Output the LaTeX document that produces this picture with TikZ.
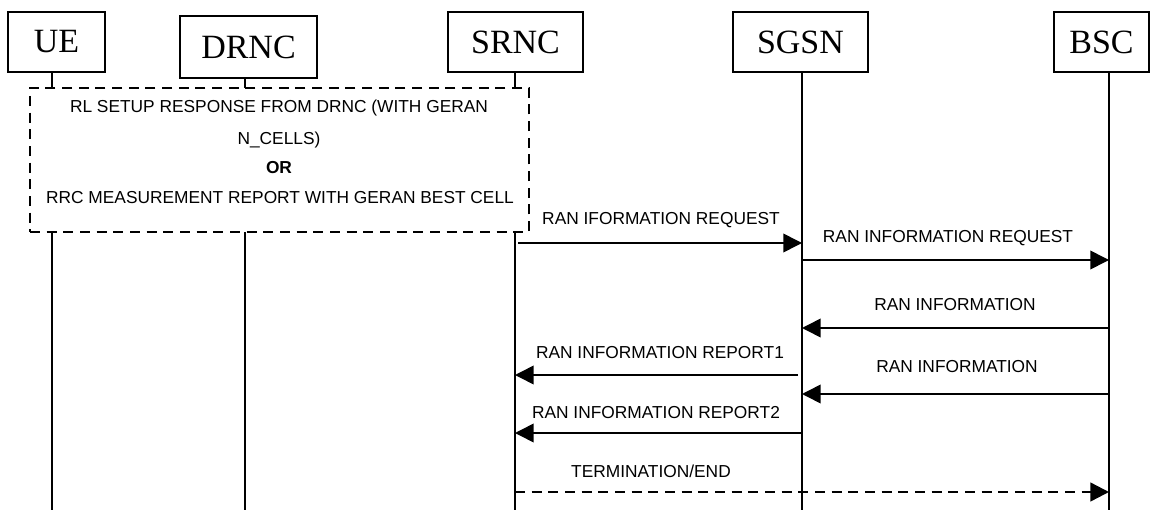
\documentclass[tikz,border=0pt]{standalone}
\usepackage{fontspec}
\setmainfont{Liberation Serif}
\newfontfamily\arialfont{Liberation Sans}
\usetikzlibrary{arrows.meta}
\tikzset{
  hdr/.style={draw, line width=1.1pt, fill=white, inner sep=0pt, font=\fontsize{25.5pt}{28pt}\selectfont},
  life/.style={line width=1.1pt},
  grp/.style={draw, line width=2.1pt, dash pattern=on 7.5pt off 5pt, fill=white},
  lbl/.style={font=\arialfont\fontsize{13pt}{15pt}\selectfont, inner sep=0pt},
  msg/.style={line width=1.2pt, -{Triangle[length=14pt,width=14pt]}},
  dmsg/.style={msg, dash pattern=on 7.5pt off 5pt, line width=1.8pt}
}
\begin{document}
\begin{tikzpicture}[x=0.75pt,y=-0.75pt]
\useasboundingbox (0,0) rectangle (1150,510);
% participants
\node[hdr, minimum width=72.75pt, minimum height=45pt] (ue) at (56.5,42) {UE};
\node[hdr, minimum width=102.75pt, minimum height=46.5pt] (drnc) at (248.5,47) {DRNC};
\node[hdr, minimum width=101.25pt, minimum height=45pt] (srnc) at (515.5,42) {SRNC};
\node[hdr, minimum width=101.25pt, minimum height=45pt] (sgsn) at (800.5,42) {SGSN};
\node[hdr, minimum width=71.25pt, minimum height=45pt] (bsc) at (1101.5,42) {BSC};
% lifeline x positions
\coordinate (ueL) at (52,0);
\coordinate (drncL) at (245,0);
\coordinate (srncL) at (515,0);
\coordinate (sgsnL) at (802,0);
\coordinate (bscL) at (1109,0);
\coordinate (bot) at (0,512);
\draw[life] (ue.south -| ueL) -- (bot -| ueL);
\draw[life] (drnc.south -| drncL) -- (bot -| drncL);
\draw[life] (srnc.south -| srncL) -- (bot -| srncL);
\draw[life] (sgsn.south -| sgsnL) -- (bot -| sgsnL);
\draw[life] (bsc.south -| bscL) -- (bot -| bscL);
% group box
\node[grp, minimum width=374.25pt, minimum height=108pt, inner sep=0pt] (grpbox) at (279.5,160) {};
\node[lbl] (t1) at (279,108) {RL SETUP RESPONSE FROM DRNC (WITH GERAN};
\node[lbl] (t2) at (279,140) {N\_CELLS)};
\node[lbl, font=\arialfont\bfseries\fontsize{13pt}{15pt}\selectfont] (t3) at (279,168) {OR};
\node[lbl] (t4) at (280,198) {RRC MEASUREMENT REPORT WITH GERAN BEST CELL};
% messages
\coordinate (y1) at (0,243);
\coordinate (y2) at (0,260);
\coordinate (y3) at (0,328);
\coordinate (y4) at (0,375);
\coordinate (y5) at (0,394);
\coordinate (y6) at (0,433);
\coordinate (y7) at (0,492);
\draw[msg] ([xshift=2.5pt]srncL |- y1) -- (sgsnL |- y1) node[lbl] at (661,220) {RAN IFORMATION REQUEST};
\draw[msg] (sgsnL |- y2) -- (bscL |- y2) node[lbl] at (948,238) {RAN INFORMATION REQUEST};
\draw[msg] (bscL |- y3) -- (sgsnL |- y3) node[lbl] at (955,305) {RAN INFORMATION};
\draw[msg] ([xshift=-3pt]sgsnL |- y4) -- (srncL |- y4) node[lbl] at (660,353) {RAN INFORMATION REPORT1};
\draw[msg] (bscL |- y5) -- (sgsnL |- y5) node[lbl] at (957,367) {RAN INFORMATION};
\draw[msg] (sgsnL |- y6) -- (srncL |- y6) node[lbl] at (656,413) {RAN INFORMATION REPORT2};
\draw[dmsg] (srncL |- y7) -- (bscL |- y7) node[lbl] at (651,471) {TERMINATION/END};
\end{tikzpicture}
\end{document}
